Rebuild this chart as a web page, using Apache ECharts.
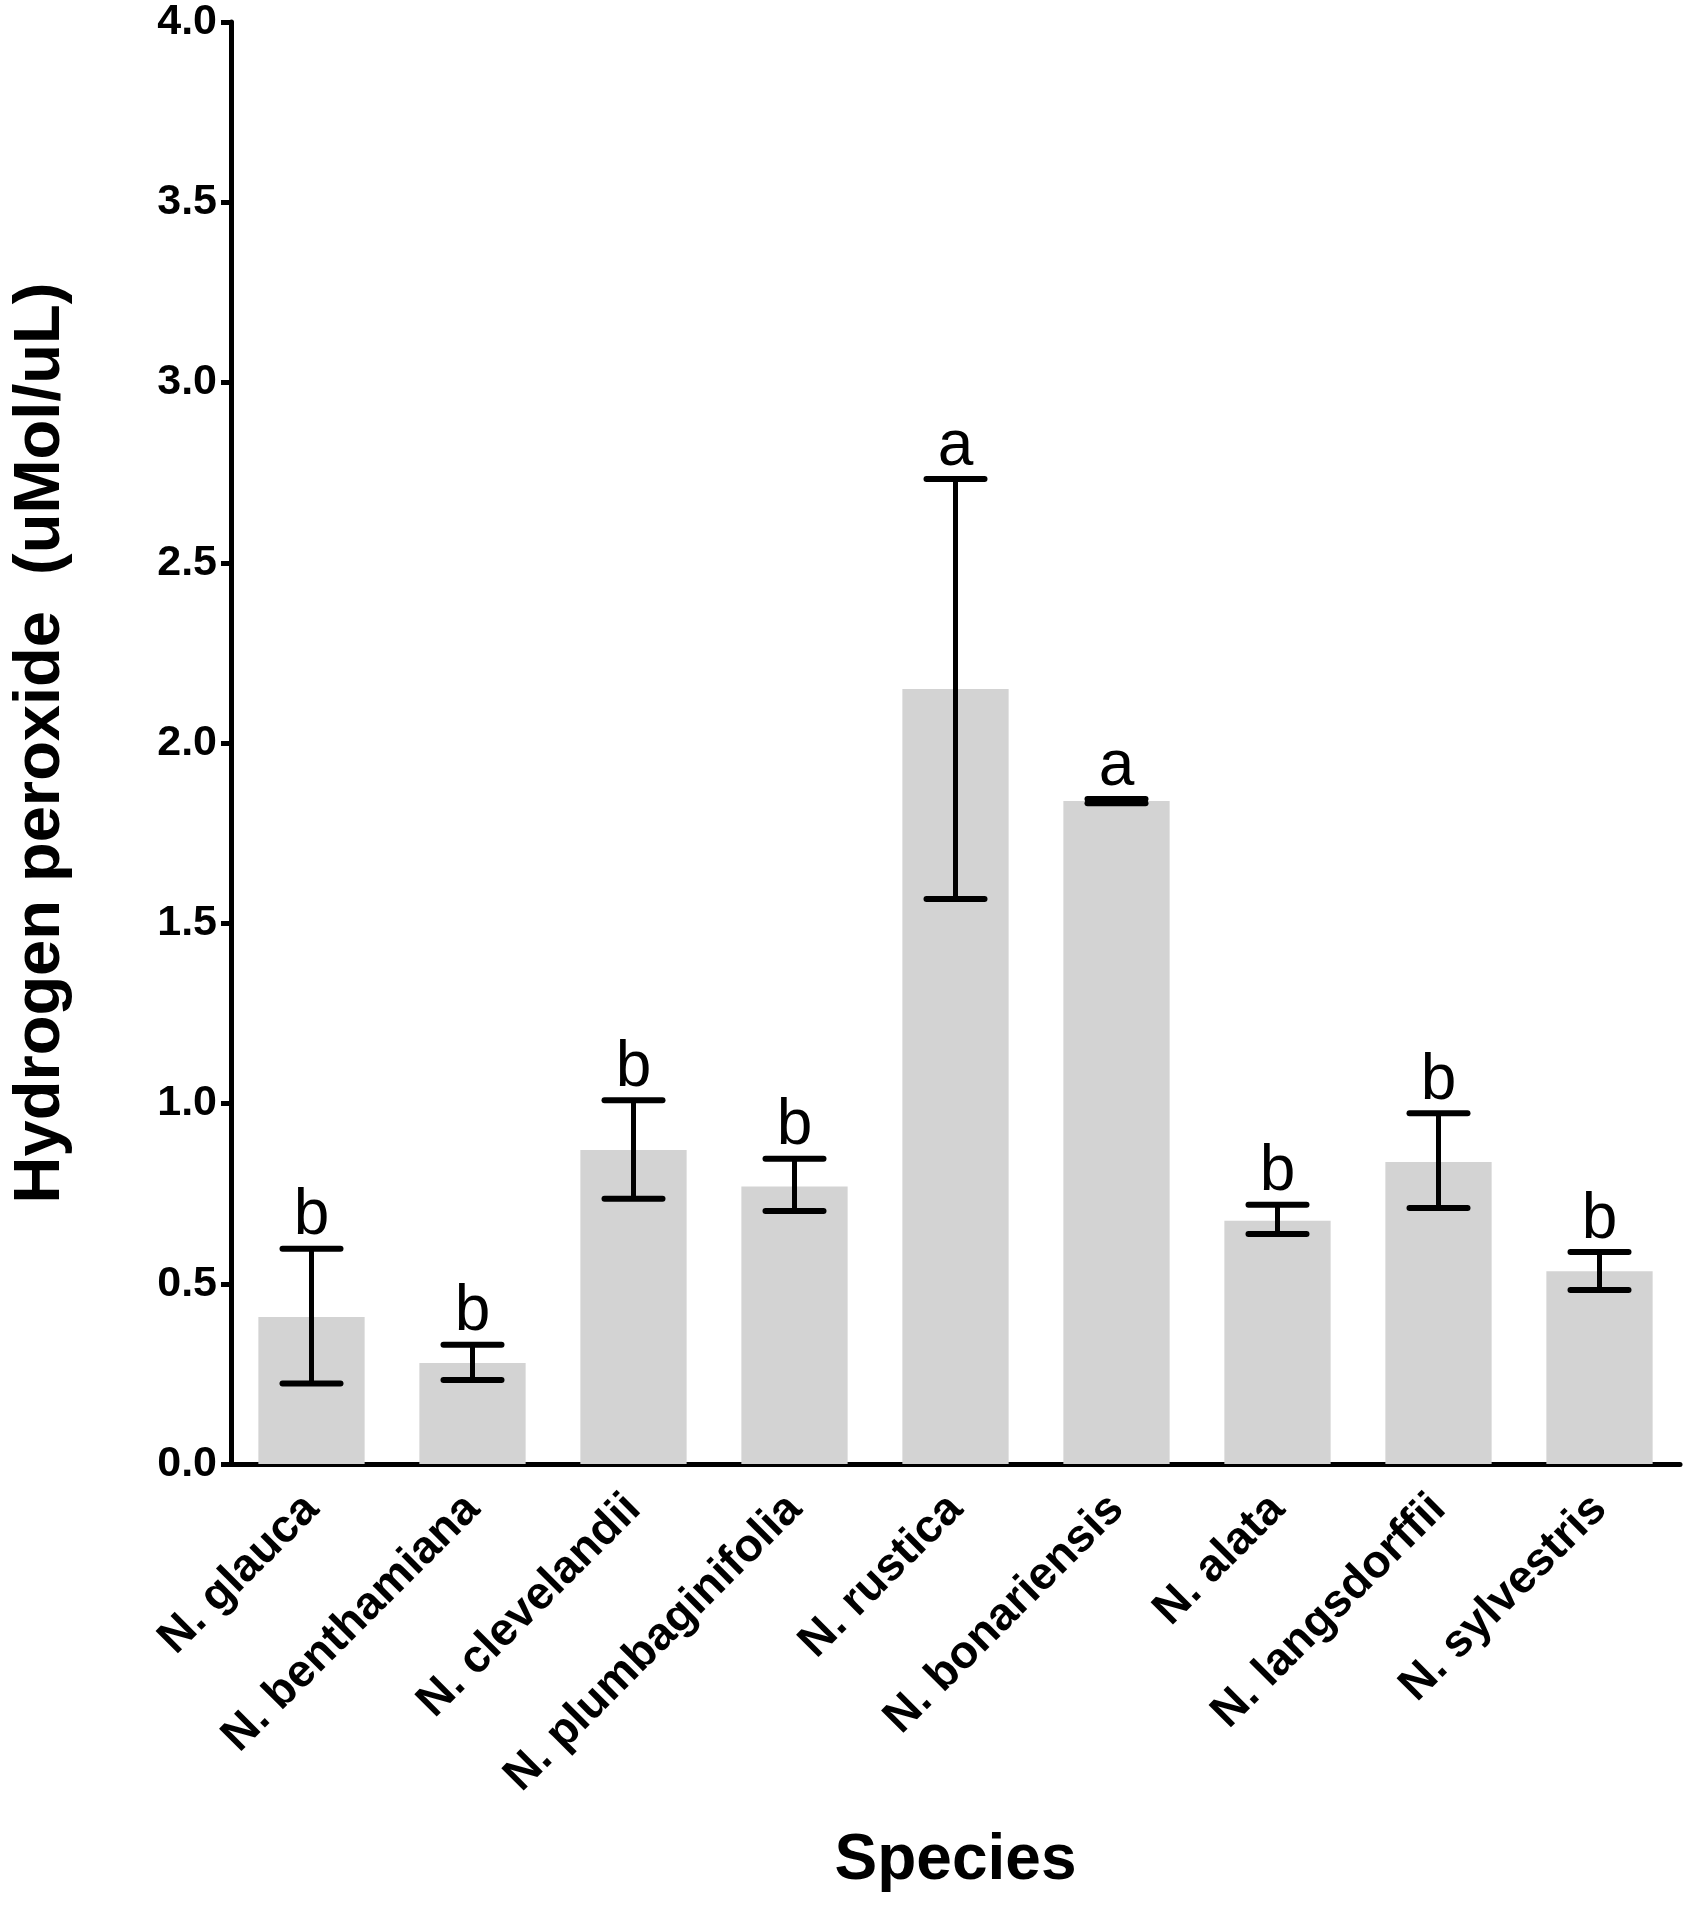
<!DOCTYPE html>
<html>
<head>
<meta charset="utf-8">
<script src="https://cdn.jsdelivr.net/npm/echarts@6.0.0/dist/echarts.min.js"></script>
<style>
  html, body { margin: 0; padding: 0; background: #fff; }
  #chart { width: 1685px; height: 1909px; }
</style>
</head>
<body>
<div id="chart"></div>
<script>
const species = ['N. glauca', 'N. benthamiana', 'N. clevelandii', 'N. plumbaginifolia',
  'N. rustica', 'N. bonariensis', 'N. alata', 'N. langsdorffii', 'N. sylvestris'];
const means = [0.408, 0.280, 0.871, 0.770, 2.150, 1.839, 0.675, 0.838, 0.535];
const errHigh = [0.597, 0.331, 1.009, 0.847, 2.732, 1.845, 0.719, 0.973, 0.588];
const errLow = [0.223, 0.233, 0.736, 0.702, 1.567, 1.833, 0.638, 0.710, 0.483];
const letters = ['b', 'b', 'b', 'b', 'a', 'a', 'b', 'b', 'b'];
const yTicks = [0, 0.5, 1, 1.5, 2, 2.5, 3, 3.5, 4];

const chart = echarts.init(document.getElementById('chart'));
const FONT = '"Liberation Sans", Arial, sans-serif';

const errData = species.map((s, i) => [i, errLow[i], errHigh[i], letters[i]]);

chart.setOption({
  animation: false,
  grid: { left: 231, right: 5, top: 22, bottom: 445, containLabel: false, outerBoundsMode: 'none' },
  xAxis: {
    type: 'category',
    data: species,
    name: 'Species',
    nameLocation: 'middle',
    nameGap: 365,
    nameTextStyle: { fontFamily: FONT, fontWeight: 'bold', fontSize: 64, color: '#000' },
    axisLine: { lineStyle: { color: '#000', width: 5 } },
    axisTick: { alignWithLabel: true, length: 16, lineStyle: { color: '#000', width: 5 } },
    axisLabel: {
      rotate: 45, margin: 38, interval: 0,
      fontFamily: FONT, fontWeight: 'bold', fontSize: 46, color: '#000'
    }
  },
  yAxis: {
    type: 'value',
    min: 0, max: 4, interval: 0.5,
    name: 'Hydrogen peroxide  (uMol/uL)',
    nameLocation: 'middle',
    nameGap: 157,
    nameTextStyle: { fontFamily: FONT, fontWeight: 'bold', fontSize: 65, color: '#000' },
    splitLine: { show: false },
    axisLine: { show: true, lineStyle: { color: '#000', width: 5 } },
    axisTick: { show: true, length: 10, lineStyle: { color: '#000', width: 5 } },
    axisLabel: {
      margin: 14,
      fontFamily: FONT, fontWeight: 'bold', fontSize: 43, color: '#000',
      formatter: v => yTicks.includes(v) ? v.toFixed(1) : ''
    }
  },
  series: [
    {
      type: 'bar',
      data: means,
      barCategoryGap: '34%',
      itemStyle: { color: '#d3d3d3' }
    },
    {
      type: 'custom',
      data: errData,
      z: 10,
      renderItem: function (params, api) {
        const i = api.value(0);
        const lo = api.coord([i, api.value(1)]);
        const hi = api.coord([i, api.value(2)]);
        const half = 29;
        const stroke = { stroke: '#000', lineWidth: 5 };
        const capStyle = { stroke: '#000', lineWidth: 6, lineCap: 'round' };
        return {
          type: 'group',
          children: [
            { type: 'line', shape: { x1: hi[0], y1: hi[1], x2: lo[0], y2: lo[1] }, style: stroke },
            { type: 'line', shape: { x1: hi[0] - half, y1: hi[1], x2: hi[0] + half, y2: hi[1] }, style: capStyle },
            { type: 'line', shape: { x1: lo[0] - half, y1: lo[1], x2: lo[0] + half, y2: lo[1] }, style: capStyle },
            {
              type: 'text',
              style: {
                x: hi[0], y: hi[1],
                text: letters[i],
                fill: '#000',
                font: 'normal 64px ' + FONT,
                align: 'center',
                verticalAlign: 'bottom'
              }
            }
          ]
        };
      }
    }
  ]
});
</script>
</body>
</html>
